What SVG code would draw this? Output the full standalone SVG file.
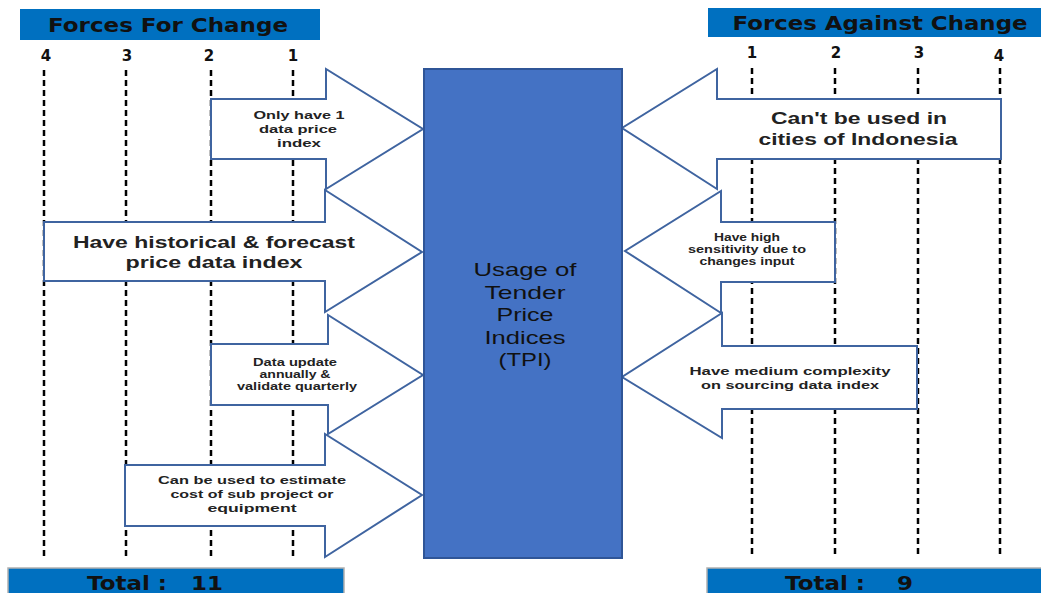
<svg xmlns="http://www.w3.org/2000/svg" width="1041" height="593" viewBox="0 0 1041 593">
<style>
.hdr{fill:#0070C0;}
.tot{fill:#0070C0;stroke:#B0B0B0;stroke-width:1.5;}
.ht{font-family:"DejaVu Sans",Verdana,sans-serif;font-weight:bold;fill:#111;text-anchor:middle;}
.num{font-family:"DejaVu Sans",sans-serif;font-weight:bold;font-size:15px;fill:#111;text-anchor:middle;}
.dash{stroke:#000;stroke-width:2.5;stroke-dasharray:6 4;fill:none;}
.arr{fill:#fff;stroke:#3F64A0;stroke-width:2;stroke-linejoin:miter;}
.at{font-family:"Liberation Sans",Arial,sans-serif;font-weight:bold;fill:#222;text-anchor:middle;}
.ct{font-family:"Liberation Sans",Arial,sans-serif;font-size:18.5px;fill:#111;text-anchor:middle;}
</style>
<rect width="1041" height="593" fill="#fff"/>
<g id="header-for">
<rect class="hdr" x="20" y="9" width="300" height="31"/>
<text class="ht" x="168" y="32" font-size="19" textLength="240" lengthAdjust="spacingAndGlyphs">Forces For Change</text>
</g>
<g id="header-against">
<rect class="hdr" x="708" y="8" width="333" height="29"/>
<text class="ht" x="880" y="30" font-size="19" textLength="295" lengthAdjust="spacingAndGlyphs">Forces Against Change</text>
</g>
<g id="scale">
<text class="num" x="46" y="61">4</text>
<text class="num" x="127" y="61">3</text>
<text class="num" x="209" y="61">2</text>
<text class="num" x="293" y="61">1</text>
<text class="num" x="752" y="58">1</text>
<text class="num" x="836" y="58">2</text>
<text class="num" x="919" y="58">3</text>
<text class="num" x="999" y="61">4</text>
<line class="dash" x1="44" y1="70" x2="44" y2="557"/>
<line class="dash" x1="126" y1="70" x2="126" y2="558"/>
<line class="dash" x1="211" y1="70" x2="211" y2="557"/>
<line class="dash" x1="293" y1="70" x2="293" y2="558"/>
<line class="dash" x1="752" y1="68" x2="752" y2="555"/>
<line class="dash" x1="835" y1="68" x2="835" y2="558"/>
<line class="dash" x1="918" y1="68" x2="918" y2="557"/>
<line class="dash" x1="1000" y1="68" x2="1000" y2="558"/>
</g>
<g id="connectors">
<g id="for-1">
<path class="arr" d="M211,99 H326 V69 L423,129 L326,189 V159 H211 Z"/>
<text class="at" font-size="11.5" x="299" y="119" textLength="91" lengthAdjust="spacingAndGlyphs">Only have 1</text>
<text class="at" font-size="11.5" x="298" y="133" textLength="78" lengthAdjust="spacingAndGlyphs">data price</text>
<text class="at" font-size="11.5" x="299" y="147" textLength="44" lengthAdjust="spacingAndGlyphs">index</text>
</g>
<g id="for-2">
<path class="arr" d="M44,222 H325 V190 L422,252 L325,312 V281 H44 Z"/>
<text class="at" font-size="16.5" x="214" y="248" textLength="282" lengthAdjust="spacingAndGlyphs">Have historical  &amp; forecast</text>
<text class="at" font-size="16.5" x="214" y="268" textLength="177" lengthAdjust="spacingAndGlyphs">price data index</text>
</g>
<g id="for-3">
<path class="arr" d="M211,344 H328 V315 L423,375 L328,434 V405 H211 Z"/>
<text class="at" font-size="10.5" x="295" y="366" textLength="84" lengthAdjust="spacingAndGlyphs">Data update</text>
<text class="at" font-size="10.5" x="295" y="378" textLength="71" lengthAdjust="spacingAndGlyphs">annually &amp;</text>
<text class="at" font-size="10.5" x="297" y="390" textLength="120" lengthAdjust="spacingAndGlyphs">validate quarterly</text>
</g>
<g id="for-4">
<path class="arr" d="M125,465 H325 V434 L422,495 L325,557 V526 H125 Z"/>
<text class="at" font-size="11.5" x="252" y="484" textLength="188" lengthAdjust="spacingAndGlyphs">Can be used to estimate</text>
<text class="at" font-size="11.5" x="252" y="498" textLength="163" lengthAdjust="spacingAndGlyphs">cost of sub project or</text>
<text class="at" font-size="11.5" x="252" y="512" textLength="89" lengthAdjust="spacingAndGlyphs">equipment</text>
</g>
<g id="against-1">
<path class="arr" d="M1001,99 H717 V69 L622,128 L717,189 V159 H1001 Z"/>
<text class="at" font-size="16" x="859" y="124" textLength="176" lengthAdjust="spacingAndGlyphs">Can't be used in</text>
<text class="at" font-size="16" x="858" y="145" textLength="199" lengthAdjust="spacingAndGlyphs">cities of Indonesia</text>
</g>
<g id="against-2">
<path class="arr" d="M835,222 H721 V191 L625,251 L721,313 V282 H835 Z"/>
<text class="at" font-size="10.5" x="747" y="241" textLength="66" lengthAdjust="spacingAndGlyphs">Have high</text>
<text class="at" font-size="10.5" x="747" y="253" textLength="118" lengthAdjust="spacingAndGlyphs">sensitivity due to</text>
<text class="at" font-size="10.5" x="747" y="265" textLength="95" lengthAdjust="spacingAndGlyphs">changes input</text>
</g>
<g id="against-3">
<path class="arr" d="M917,346 H722 V313 L622,377 L722,438 V409 H917 Z"/>
<text class="at" font-size="11.5" x="790" y="375" textLength="201" lengthAdjust="spacingAndGlyphs">Have medium complexity</text>
<text class="at" font-size="11.5" x="790" y="389" textLength="178" lengthAdjust="spacingAndGlyphs">on sourcing data index</text>
</g>
</g>
<g id="center">
<rect x="424" y="69" width="198" height="489" fill="#4472C4" stroke="#2F5597" stroke-width="2"/>
<text class="ct" x="525" y="276" textLength="103" lengthAdjust="spacingAndGlyphs">Usage of</text>
<text class="ct" x="525" y="299" textLength="81" lengthAdjust="spacingAndGlyphs">Tender</text>
<text class="ct" x="525" y="321" textLength="57" lengthAdjust="spacingAndGlyphs">Price</text>
<text class="ct" x="525" y="344" textLength="81" lengthAdjust="spacingAndGlyphs">Indices</text>
<text class="ct" x="525" y="366" textLength="53" lengthAdjust="spacingAndGlyphs">(TPI)</text>
</g>
<g id="total-for">
<rect class="tot" x="8" y="568" width="336" height="27"/>
<text class="ht" x="155" y="590" font-size="19" xml:space="preserve" textLength="136" lengthAdjust="spacingAndGlyphs">Total :   11</text>
</g>
<g id="total-against">
<rect class="tot" x="707" y="568" width="336" height="27"/>
<text class="ht" x="849" y="590" font-size="19" xml:space="preserve" textLength="128" lengthAdjust="spacingAndGlyphs">Total :    9</text>
</g>
</svg>
